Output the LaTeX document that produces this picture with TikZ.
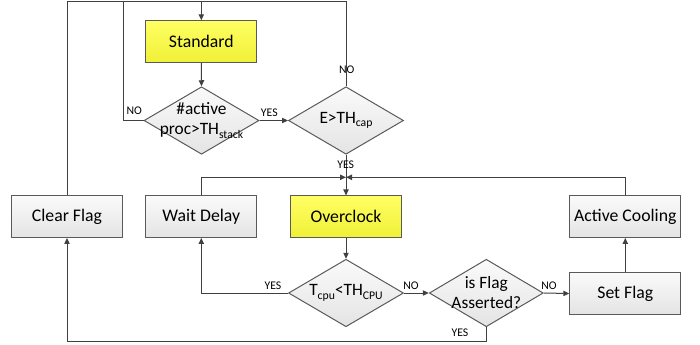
\documentclass[tikz,border=0pt]{standalone}
\usepackage{fontspec}
\setmainfont{Carlito}
\usetikzlibrary{shapes.geometric,arrows.meta}
\definecolor{ln}{HTML}{404040}
\definecolor{bd}{HTML}{5A5A5A}
\definecolor{yt}{RGB}{255,255,100}
\definecolor{yb}{RGB}{240,240,55}
\definecolor{gt}{RGB}{250,250,250}
\definecolor{gb}{RGB}{228,228,228}
\newcommand\lowsub[1]{\raisebox{-0.4ex}{\fontsize{8.8}{9}\selectfont #1}}
\begin{document}
\begin{tikzpicture}[x=0.75pt,y=-0.75pt,
  box/.style={draw=bd,line width=0.75pt,minimum width=111*0.75pt,minimum height=41.5*0.75pt,inner sep=0pt,top color=gt,bottom color=gb,font=\fontsize{13.3}{15}\selectfont},
  ybox/.style={box,top color=yt,bottom color=yb},
  dia/.style={draw=bd,line width=0.75pt,diamond,minimum width=115*0.75pt,minimum height=67.5*0.75pt,inner sep=0pt,top color=gt,bottom color=gb},
  dtext/.style={font=\fontsize{13}{15}\selectfont,align=center,inner sep=0pt},
  lab/.style={font=\fontsize{8.8}{10}\selectfont,inner sep=0pt},
  con/.style={draw=ln,line width=0.75pt},
  arr/.style={con,-{Triangle[length=4.5pt,width=4pt]}}
]
\useasboundingbox (0,0) rectangle (700,344);
% nodes
\node[ybox] (std) at (201.3,41.5) {Standard};
\node[dia] (d1) at (201.5,120.5) {};
\node[dtext] (t1) at (d1) {\#active\\proc>TH\lowsub{stack}};
\node[dia] (d2) at (346,120.5) {};
\node[dtext] (t2) at (d2) {E>TH\lowsub{cap}};
\node[box] (cf) at (67,216.7) {Clear Flag};
\node[box] (wd) at (201.3,216.7) {Wait Delay};
\node[ybox] (oc) at (346,216.7) {Overclock};
\node[box] (ac) at (625.3,216.7) {Active Cooling};
\node[dia] (d3) at (346,293) {};
\node[dtext] (t3) at (d3) {T\lowsub{cpu}<TH\lowsub{CPU}};
\node[dia,minimum width=114*0.75pt] (d4) at (486.3,293) {};
\node[dtext] (t4) at (d4) {is Flag\\Asserted?};
\node[box] (sf) at (625.3,293.5) {Set Flag};
% coordinates
\coordinate (tl) at (67,1);
\coordinate (tm) at (201.3,1);
\coordinate (tn) at (123.3,1);
\coordinate (tr) at (346,1);
\coordinate (jn) at (346,177.3);
\coordinate (bb) at (486.3,341.7);
% connectors
\draw[con] (d2.north) -- (tr) -- (tl) -- (cf.north);
\draw[con] (d1.west) -| (tn);
\draw[arr] (tm) -- (std.north);
\draw[arr] (std.south) -- (d1.north);
\draw[arr] (d1.east) -- (d2.west);
\draw[arr] (d2.south) -- (oc.north);
\draw[arr] (wd.north) |- (jn);
\draw[arr] (ac.north) |- (jn);
\draw[arr] (oc.south) -- (d3.north);
\draw[arr] (d3.west) -| (wd.south);
\draw[arr] (d3.east) -- (d4.west);
\draw[arr] (d4.east) -- (sf.west);
\draw[arr] (sf.north) -- (ac.south);
\draw[arr] (d4.south) -- (bb) -| (cf.south);
% labels
\node[lab] (l1) at (134.3,111) {NO};
\node[lab] (l2) at (269.3,113) {YES};
\node[lab] (l3) at (346.7,70) {NO};
\node[lab] (l4) at (345.7,165) {YES};
\node[lab] (l5) at (273,286) {YES};
\node[lab] (l6) at (411,286) {NO};
\node[lab] (l7) at (549,286) {NO};
\node[lab] (l8) at (460,333) {YES};
\end{tikzpicture}
\end{document}
